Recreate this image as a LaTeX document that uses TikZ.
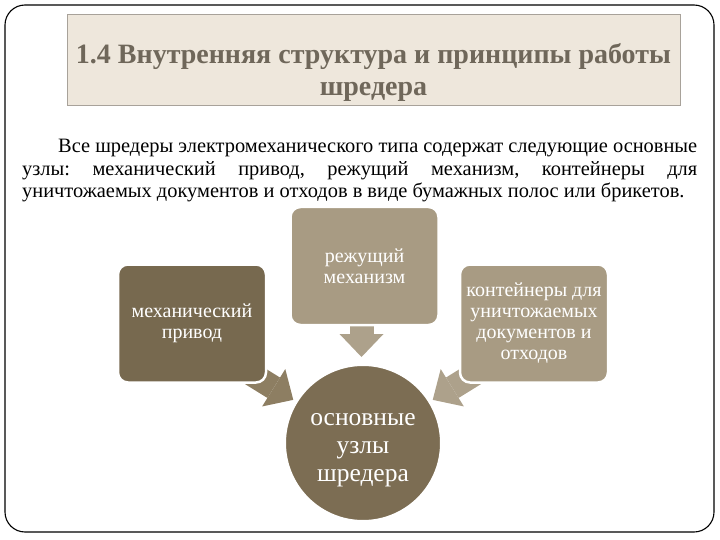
\documentclass[tikz,border=0pt]{standalone}
\usepackage{fontspec}
\setmainfont{Liberation Serif}
\usetikzlibrary{arrows.meta,backgrounds,calc}
\definecolor{darkbox}{HTML}{77694F}
\definecolor{lightbox}{HTML}{A89B83}
\definecolor{corecol}{HTML}{7C6D53}
\definecolor{arrowmid}{HTML}{8D7E62}
\definecolor{arrowlight}{HTML}{ADA18B}
\definecolor{titlefill}{HTML}{EEE7DC}
\definecolor{titleline}{HTML}{A8A29A}
\definecolor{titletext}{HTML}{6F675A}
\begin{document}
\begin{tikzpicture}[x=1pt,y=-1pt,
  partbox/.style={rectangle, rounded corners=10pt, draw=white, line width=2.5pt,
    minimum width=148pt, minimum height=118pt, text=white, align=center,
    font=\fontsize{20}{21}\selectfont, inner sep=2pt},
  corenode/.style={circle, fill=corecol, draw=white, line width=2pt,
    minimum size=156pt, inner sep=0pt},
  coretext/.style={text=white, align=center, font=\fontsize{25.5}{28}\selectfont},
  fatarrow/.style={line width=24pt,
    -{Triangle[width=44pt,length=23pt,line width=0pt]}},
  titlebox/.style={rectangle, fill=titlefill, draw=titleline, line width=1pt,
    minimum width=613pt, minimum height=91pt},
  frame/.style={rounded corners=20pt, line width=1.1pt, draw=black}]
\useasboundingbox (0,0) rectangle (720,540);
\draw[frame] (5,5) rectangle (714,532);
\node[titlebox] (title) at (373.5,60.5) {};
\node[align=center, text=titletext, font=\bfseries\fontsize{28}{32}\selectfont]
  (titletxt) at (373.5,72) {1.4 Внутренняя структура и принципы работы\\шредера};
\node[anchor=north west, text width=675pt, inner sep=0pt, align=justify,
  font=\frenchspacing\fontsize{20.4}{22.5}\selectfont] (body) at (22,139)
  {\hspace*{36pt}Все шредеры электромеханического типа содержат следующие основные\linebreak
   узлы: механический привод, режущий механизм, контейнеры для\linebreak
   уничтожаемых документов и отходов в виде бумажных полос или брикетов.};
\node[partbox, fill=lightbox] (cut) at (364.5,266) {режущий\\механизм};
\node[partbox, fill=darkbox] (mech) at (192,323.5) {механический\\привод};
\node[partbox, fill=lightbox] (cont) at (534,323.5) {контейнеры для\\уничтожаемых\\документов и\\отходов};
\node[corenode] (core) at (363,443) {};
\node[coretext] (coretxt) at ($(core)+(0,7)$) {основные\\узлы\\шредера};
\begin{scope}[on background layer]
  \draw[fatarrow, draw=arrowlight, fill=arrowlight] ($(cut.south)+(-3,-6)$) -- ($(cut.south |- core.north)+(-3,-7)$);
  \draw[fatarrow, draw=arrowmid, fill=arrowmid] ($(core)!135pt!(mech.south east)$) -- ($(core)!82pt!(mech.south east)$);
  \draw[fatarrow, draw=arrowlight, fill=arrowlight] ($(core)!135pt!(cont.south west)$) -- ($(core)!82pt!(cont.south west)$);
\end{scope}
\end{tikzpicture}
\end{document}
